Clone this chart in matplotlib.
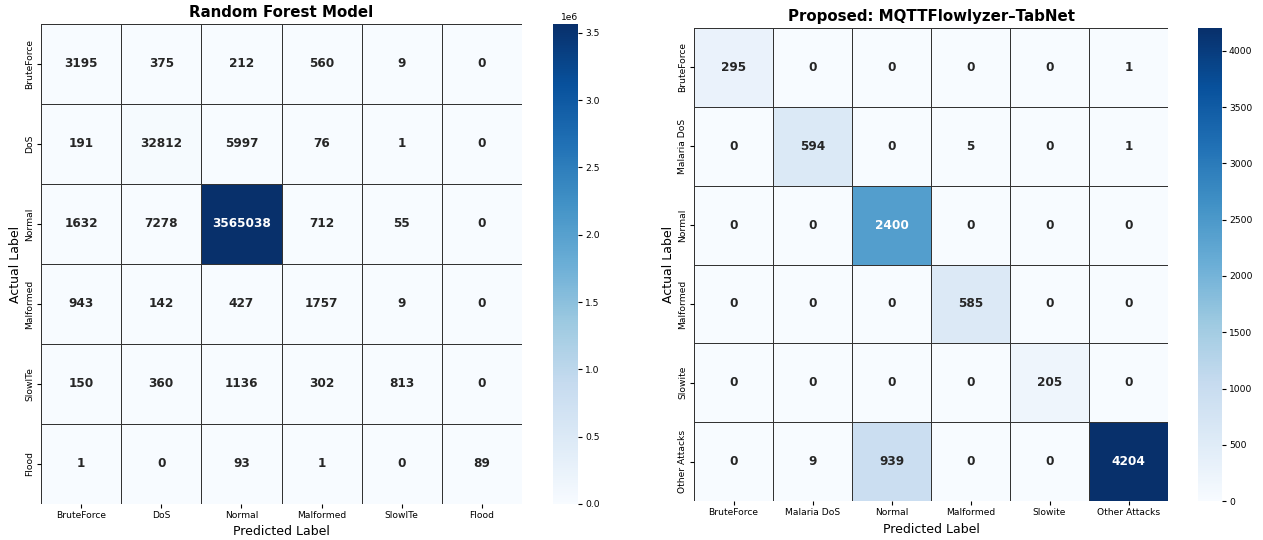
import numpy as np
import matplotlib
matplotlib.use("Agg")
import matplotlib.pyplot as plt
import seaborn as sns

rf_labels = ["BruteForce", "DoS", "Normal", "Malformed", "SlowITe", "Flood"]
rf_matrix = [
    [3195, 375, 212, 560, 9, 0],
    [191, 32812, 5997, 76, 1, 0],
    [1632, 7278, 3565038, 712, 55, 0],
    [943, 142, 427, 1757, 9, 0],
    [150, 360, 1136, 302, 813, 0],
    [1, 0, 93, 1, 0, 89],
]

tn_labels = ["BruteForce", "Malaria DoS", "Normal", "Malformed", "Slowite", "Other Attacks"]
tn_matrix = [
    [295, 0, 0, 0, 0, 1],
    [0, 594, 0, 5, 0, 1],
    [0, 0, 2400, 0, 0, 0],
    [0, 0, 0, 585, 0, 0],
    [0, 0, 0, 0, 205, 0],
    [0, 9, 939, 0, 0, 4204],
]

titles = ["Random Forest Model", "Proposed: MQTTFlowlyzer\u2013TabNet"]

fig = plt.figure(figsize=(12.63, 5.4), dpi=100)
ax_boxes = [
    ([0.0325, 0.0667, 0.3808, 0.8889], [0.4378, 0.0667, 0.0198, 0.8889]),
    ([0.5495, 0.0722, 0.3753, 0.8759], [0.9485, 0.0722, 0.0190, 0.8759]),
]

for (abox, cbox), mat, labels, title in zip(ax_boxes, [rf_matrix, tn_matrix],
                                            [rf_labels, tn_labels], titles):
    ax = fig.add_axes(abox)
    cax = fig.add_axes(cbox)
    sns.heatmap(np.array(mat), ax=ax, cbar_ax=cax, annot=True, fmt="d",
                cmap="Blues", linewidths=0.5, linecolor="#333333",
                annot_kws={"fontsize": 8.7, "fontweight": "bold"},
                xticklabels=labels, yticklabels=labels, cbar=True)
    ax.set_title(title, fontsize=10.8, fontweight="bold", pad=5)
    ax.set_xlabel("Predicted Label", fontsize=9)
    ax.set_ylabel("Actual Label", fontsize=9, labelpad=2)
    ax.tick_params(labelsize=6.6, length=3, pad=2)
    plt.setp(ax.get_yticklabels(), rotation=90, va="center")
    plt.setp(ax.get_xticklabels(), rotation=0)
    cax.tick_params(labelsize=6.6, length=3, pad=2)
    cax.yaxis.get_offset_text().set_fontsize(6.6)

fig.savefig("out.png", dpi=100)
